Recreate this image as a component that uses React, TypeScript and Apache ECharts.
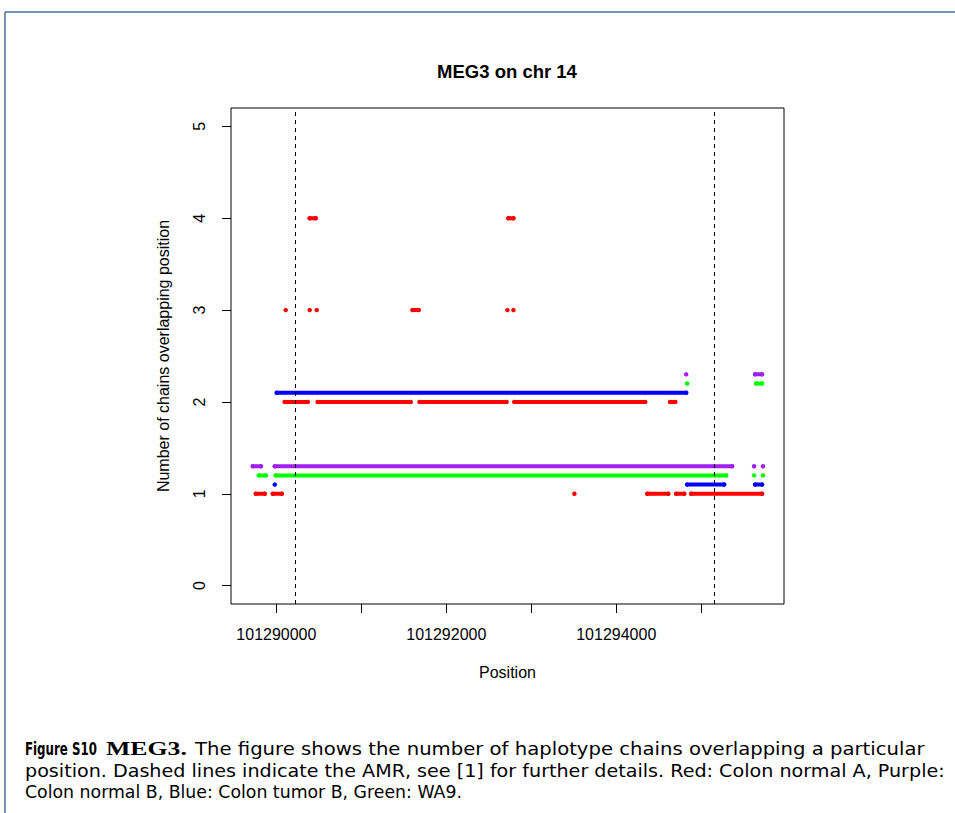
import React, { useEffect, useRef } from "react";
import * as echarts from "echarts";

// ---- data ----
const chartTitle = "MEG3 on chr 14";
const xAxisName = "Position";
const yAxisName = "Number of chains overlapping position";

const xTicks = [101290000, 101291000, 101292000, 101293000, 101294000, 101295000];
const xTickLabels = [101290000, 101292000, 101294000];
const yTicks = [0, 1, 2, 3, 4, 5];
const amrBounds = [101290220, 101295150];

// segments: [start position, end position, plotted height]
const redSegments: [number, number, number][] = [
  [101289757, 101289864, 1],
  [101289957, 101290064, 1],
  [101293507, 101293507, 1],
  [101294364, 101294612, 1],
  [101294705, 101294800, 1],
  [101294881, 101295716, 1],
  [101290098, 101290369, 2],
  [101290486, 101291580, 2],
  [101291685, 101292708, 2],
  [101292801, 101294341, 2],
  [101294634, 101294694, 2],
  [101290110, 101290110, 3],
  [101290392, 101290392, 3],
  [101290475, 101290475, 3],
  [101291602, 101291674, 3],
  [101292719, 101292719, 3],
  [101292790, 101292790, 3],
  [101290392, 101290463, 4],
  [101292730, 101292790, 4],
];
const purpleSegments: [number, number, number][] = [
  [101289722, 101289817, 1.3],
  [101289981, 101295364, 1.3],
  [101295622, 101295622, 1.3],
  [101295727, 101295727, 1.3],
  [101294823, 101294823, 2.3],
  [101295633, 101295716, 2.3],
];
const greenSegments: [number, number, number][] = [
  [101289793, 101289876, 1.2],
  [101289992, 101295293, 1.2],
  [101295622, 101295622, 1.2],
  [101295727, 101295727, 1.2],
  [101294834, 101294834, 2.2],
  [101295645, 101295716, 2.2],
];
const blueSegments: [number, number, number][] = [
  [101289981, 101289981, 1.1],
  [101294834, 101295270, 1.1],
  [101295633, 101295716, 1.1],
  [101290004, 101294823, 2.1],
];

const captionBold = "Figure S10";
const captionGene = "MEG3.";
const captionLine1 = "The figure shows the number of haplotype chains overlapping a particular";
const captionLine2 =
  "position. Dashed lines indicate the AMR, see [1] for further details. Red: Colon normal A, Purple:";
const captionLine3 = "Colon normal B, Blue: Colon tumor B, Green: WA9.";

export default function App() {
  const ref = useRef<HTMLDivElement>(null);

  useEffect(() => {
    if (!ref.current) return;
    const chart = echarts.init(ref.current, undefined, { renderer: "svg" });

    const canvas = document.createElement("canvas");
    const ctx = canvas.getContext("2d")!;
    const fit = (text: string, font: string, target: number) => {
      ctx.font = font;
      const w = ctx.measureText(text).width;
      return w > 0 ? target / w : 1;
    };

    const sans = '"DejaVu Sans"';
    const capSize = 17;

    const capText = (
      text: string,
      x: number,
      x2: number,
      y: number,
      family: string,
      weight: string,
      size: number
    ) => ({
      type: "text",
      x,
      y,
      scaleX: fit(text, `${weight} ${size}px ${family}`, x2 - x),
      silent: true,
      style: {
        text,
        fontFamily: family,
        fontWeight: weight,
        fontSize: size,
        fill: "#000",
        align: "left",
        verticalAlign: "middle",
      },
    });

    const groups = [
      { color: "#FF0000", segs: redSegments },
      { color: "#A020F0", segs: purpleSegments },
      { color: "#0000FF", segs: blueSegments },
      { color: "#00FF00", segs: greenSegments },
    ];

    const series: any[] = [];
    groups.forEach((g) => {
      g.segs.forEach(([s, e, y]) => {
        series.push({
          type: "line",
          data: s === e ? [[s, y]] : [[s, y], [e, y]],
          symbol: "circle",
          symbolSize: 4.5,
          showSymbol: true,
          silent: true,
          lineStyle: { color: g.color, width: 4, cap: "round" },
          itemStyle: { color: g.color },
          z: 2,
        });
      });
    });
    series.push({
      type: "line",
      data: [],
      silent: true,
      markLine: {
        silent: true,
        symbol: ["none", "none"],
        label: { show: false },
        lineStyle: { color: "#000", type: [4, 4], width: 1 },
        data: amrBounds.map((v) => ({ xAxis: v })),
      },
    });

    const axisFont = '"Liberation Sans"';

    chart.setOption({
      animation: false,
      backgroundColor: "#fff",
      grid: {
        left: 231,
        right: 171,
        top: 108,
        bottom: 209,
        show: true,
        borderColor: "#000",
        borderWidth: 1,
        backgroundColor: "transparent",
      },
      xAxis: {
        type: "value",
        min: 101289466,
        max: 101295974,
        axisLine: { show: false, onZero: false },
        splitLine: { show: false },
        axisTick: {
          show: true,
          customValues: xTicks,
          length: 9,
          lineStyle: { color: "#000" },
        },
        axisLabel: {
          customValues: xTickLabels,
          formatter: (v: number) => String(v),
          fontFamily: axisFont,
          fontSize: 16,
          color: "#000",
          margin: 22,
        },
        name: xAxisName,
        nameLocation: "middle",
        nameGap: 60,
        nameTextStyle: { fontFamily: axisFont, fontSize: 16, color: "#000" },
      },
      yAxis: {
        type: "value",
        min: -0.2,
        max: 5.2,
        axisLine: { show: false, onZero: false },
        splitLine: { show: false },
        axisTick: {
          show: true,
          customValues: yTicks,
          length: 9,
          lineStyle: { color: "#000" },
        },
        axisLabel: {
          customValues: yTicks,
          rotate: 90,
          fontFamily: axisFont,
          fontSize: 16,
          color: "#000",
          margin: 24,
        },
        name: yAxisName,
        nameLocation: "middle",
        nameGap: 60,
        nameTextStyle: { fontFamily: axisFont, fontSize: 16, color: "#000" },
      },
      series,
      graphic: [
        {
          type: "line",
          silent: true,
          shape: { x1: 5, y1: 12, x2: 955, y2: 12 },
          style: { stroke: "#4a6e9c", lineWidth: 1.5 },
        },
        {
          type: "line",
          silent: true,
          shape: { x1: 5, y1: 12, x2: 5, y2: 813 },
          style: { stroke: "#4a6e9c", lineWidth: 1.5 },
        },
        {
          type: "text",
          x: 507,
          y: 71,
          silent: true,
          style: {
            text: chartTitle,
            fontFamily: axisFont,
            fontWeight: "bold",
            fontSize: 18.5,
            fill: "#000",
            align: "center",
            verticalAlign: "middle",
          },
        },
        capText(captionBold, 25, 97, 749, '"DejaVu Sans"', "bold", 17),
        capText(captionGene, 106, 187, 749, '"Liberation Serif"', "bold", 19),
        capText(captionLine1, 195, 925, 749, sans, "normal", capSize),
        capText(captionLine2, 25, 945, 771, sans, "normal", capSize),
        capText(captionLine3, 25, 462, 792, sans, "normal", capSize),
      ],
    });

    return () => chart.dispose();
  }, []);

  return (
    <div
      ref={ref}
      style={{ position: "absolute", left: 0, top: 0, width: 955, height: 813 }}
    />
  );
}
